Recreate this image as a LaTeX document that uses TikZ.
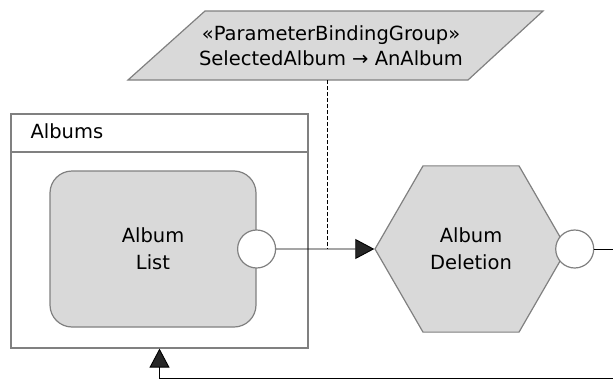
\documentclass[tikz,border=0pt]{standalone}
\usepackage{fontspec}
\setmainfont{DejaVu Sans}
\usetikzlibrary{positioning}
\usetikzlibrary{arrows.meta,shapes}

\definecolor{boxfill}{HTML}{D9D9D9}
\definecolor{boxline}{HTML}{808080}
\definecolor{tipfill}{HTML}{262626}

\tikzset{
  box/.style={draw=boxline, fill=boxfill, line width=1.2pt},
  port/.style={circle, draw=boxline, fill=white, line width=1.2pt, minimum size=38pt, inner sep=0pt},
  flow/.style={black, line width=0.9pt, -{Triangle[length=19pt,width=20pt,fill=tipfill]}},
  lbl/.style={font=\fontsize{19.5}{27}\selectfont, align=center, text=black},
}

\begin{document}
\begin{tikzpicture}[x=1pt, y=-1pt]
 \useasboundingbox (0,0) rectangle (613,380);
 \clip (0,0) rectangle (613,380);

 %binding group
 \draw[box] (205,11) -- (543,11) -- (468,80) -- (128,80) -- cycle;
 \node[lbl, font=\fontsize{19.5}{25}\selectfont] (binding) at (331,46) {«ParameterBindingGroup»\\SelectedAlbum → AnAlbum};
 \coordinate (bindfoot) at (327,80);

 %frame
 \node[draw=boxline, line width=1.2pt, minimum width=297pt, minimum height=234pt, inner sep=0pt] (albums) at (159.5,231) {};
 \draw[boxline, line width=1.2pt] (albums.west |- 0,152) -- (albums.east |- 0,152);
 \node[lbl, anchor=base west] (albumstitle) at (27,138) {Albums};

 %activities
 \node[box, lbl, rounded corners=22pt, minimum width=206pt, minimum height=156pt] (list) at (153,249) {Album\\List};
 \node[box, lbl, regular polygon, regular polygon sides=6, minimum size=192pt, inner sep=0pt] (deletion) at (471,249) {Album\\Deletion};

 %ports
 \foreach \s/\p/\dx in {list/listout/0, deletion/delout/7} {
   \node[port] (\p) at ([xshift=\dx pt]\s.east) {};
 }
 \coordinate (join) at (bindfoot |- listout);

 %arrows
 \draw[flow] (listout.east) -- (deletion.west);
 \draw[black, line width=0.9pt, dash pattern=on 4pt off 2pt] (bindfoot) -- (join);
 \draw[flow] (delout.east) -- ++(40,0) |- (albums.south |- 0,378) -- (albums.south);

\end{tikzpicture}
\end{document}
